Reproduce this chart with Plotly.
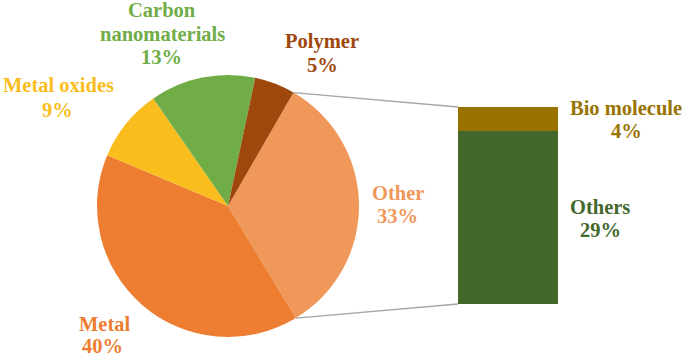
import math
import plotly.graph_objects as go

# ---- data ----
pie_labels = ["Other", "Metal", "Metal oxides", "Carbon nanomaterials", "Polymer"]
pie_values = [33, 40, 9, 13, 5]
pie_colors = ["#F0985A", "#ED7D31", "#F9BE1E", "#70AD47", "#9E480E"]

bar_labels = ["Others", "Bio molecule"]
bar_values = [29, 4]
bar_colors = ["#43682B", "#997300"]

W, H = 685, 357
FONT = "Liberation Serif"
FS = 20.5


def px2paper(x, y):
    return x / W, (H - y) / H


# pie geometry (window pixels)
cx, cy, r = 228, 206, 131
rotation = 30

x0p, y0p = px2paper(cx - r, cy + r)
x1p, y1p = px2paper(cx + r, cy - r)
pie_dom_x = [x0p, x1p]
pie_dom_y = [y0p, y1p]

bx0, by0 = px2paper(458, 304)
bx1, by1 = px2paper(558, 107)
bar_dom_x = [bx0, bx1]
bar_dom_y = [by0, by1]

fig = go.Figure()
fig.add_trace(go.Pie(
    labels=pie_labels, values=pie_values, sort=False, direction="clockwise",
    rotation=rotation, marker=dict(colors=pie_colors, line=dict(width=0)),
    textinfo="none", hoverinfo="label+percent", showlegend=False,
    domain=dict(x=pie_dom_x, y=pie_dom_y),
))
for lab, val, col in zip(bar_labels, bar_values, bar_colors):
    fig.add_trace(go.Bar(x=[0], y=[val], name=lab, marker=dict(color=col, line=dict(width=0)),
                         width=1, showlegend=False, xaxis="x", yaxis="y"))

# connector lines: from the "Other" slice edges to bar corners
total = sum(pie_values)
a0 = math.radians(rotation)
a1 = math.radians(rotation + 360 * pie_values[0] / total)
bar_total = sum(bar_values)
for a, yb in [(a0, bar_dom_y[1]), (a1, bar_dom_y[0])]:
    ppx, ppy = px2paper(cx + r * math.sin(a), cy - r * math.cos(a))
    fig.add_shape(type="line", xref="paper", yref="paper",
                  x0=ppx, y0=ppy, x1=bar_dom_x[0], y1=yb,
                  line=dict(color="#A6A6A6", width=1.3))

# label lines: (text, centre x, centre y in window pixels, colour)
label_lines = [
    ("Carbon", 162, 9.5, "#70AD47"),
    ("nanomaterials", 162, 33.5, "#70AD47"),
    ("13%", 161, 57.5, "#70AD47"),
    ("Polymer", 322, 41, "#9E480E"),
    ("5%", 322, 65, "#9E480E"),
    ("Metal oxides", 58, 84.5, "#F9BE1E"),
    ("9%", 57, 109.5, "#F9BE1E"),
    ("Other", 398, 192.5, "#F0985A"),
    ("33%", 397, 216, "#F0985A"),
    ("Metal", 105, 323.5, "#ED7D31"),
    ("40%", 102, 345.5, "#ED7D31"),
    ("Bio molecule", 626, 107.5, "#997300"),
    ("4%", 626, 130.5, "#997300"),
    ("Others", 600, 207.5, "#43682B"),
    ("29%", 600, 230.5, "#43682B"),
]
for txt, x, y, col in label_lines:
    ax, ay = px2paper(x, y)
    fig.add_annotation(text=txt, x=ax, y=ay, xref="paper", yref="paper",
                       showarrow=False, xanchor="center", yanchor="middle",
                       font=dict(family=FONT, size=FS, color=col, weight="bold"),
                       align="center", borderpad=0)

fig.update_layout(
    width=W, height=H, margin=dict(l=0, r=0, t=0, b=0),
    paper_bgcolor="white", plot_bgcolor="rgba(0,0,0,0)",
    barmode="stack", bargap=0,
    xaxis=dict(domain=bar_dom_x, range=[-0.5, 0.5], visible=False, fixedrange=True),
    yaxis=dict(domain=bar_dom_y, range=[0, bar_total], visible=False, fixedrange=True),
    font=dict(family=FONT, size=FS),
)
fig.write_html("out.html", config={"displayModeBar": False},
               post_script="document.body.style.margin='0';")
